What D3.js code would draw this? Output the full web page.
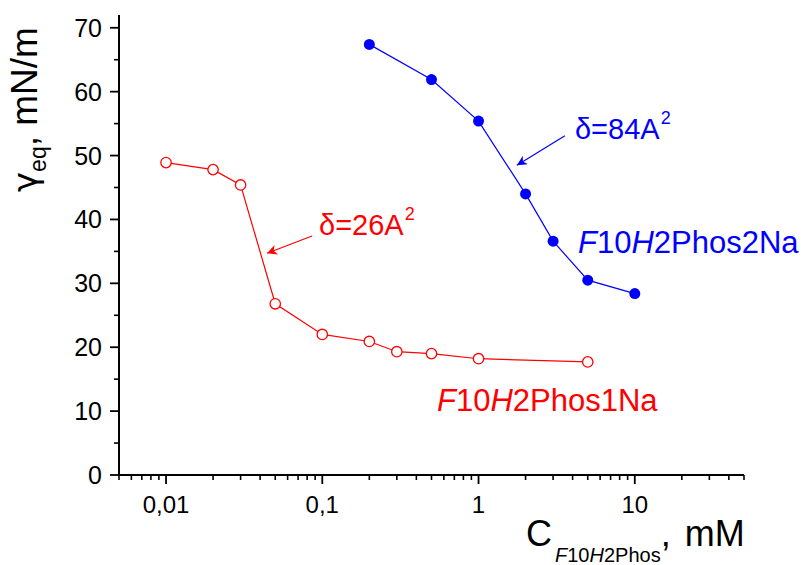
<!DOCTYPE html>
<html>
<head>
<meta charset="utf-8">
<script src="https://cdn.jsdelivr.net/npm/d3@7"></script>
<style>
  body { margin: 0; background: #fff; }
  svg { display: block; font-family: "Liberation Sans", Arial, sans-serif; }
</style>
</head>
<body>
<div id="chart"></div>
<script>
// data
const conc1Na = [0.01, 0.02, 0.03, 0.05, 0.1, 0.2, 0.3, 0.5, 1, 5]
const gamma1Na = [48.9, 47.8, 45.4, 26.8, 22.0, 20.9, 19.3, 19.0, 18.2, 17.7]

const conc2Na = [0.2, 0.5, 1, 2, 3, 5, 10]
const gamma2Na = [67.4, 61.9, 55.4, 44.0, 36.6, 30.5, 28.4]

const xMajorTicks = [0.01, 0.1, 1, 10]
const xTickLabels = ["0,01", "0,1", "1", "10"]
const yMajorTicks = [0, 10, 20, 30, 40, 50, 60, 70]
const yMinorTicks = [5, 15, 25, 35, 45, 55, 65]

const width = 805
const height = 565

const svg = d3.select("#chart")
  .append("svg")
    .attr("width", width)
    .attr("height", height)

// scales: log x from 0.005 to 50, y from 0 to 72
const x = d3.scaleLog().domain([0.005, 50]).range([119, 744])
const y = d3.scaleLinear().domain([0, 72]).range([475, 15])

// minor ticks on the log axis: 2..9 of every decade inside the domain
const xMinorTicks = x.ticks().filter(t => xMajorTicks.indexOf(t) < 0)

const axisColor = "#000"

// ---- x axis
const gx = svg.append("g").attr("transform", `translate(0,${y(0)})`)
gx.append("line")
  .attr("x1", x.range()[0]).attr("x2", x.range()[1])
  .attr("stroke", axisColor).attr("stroke-width", 2)
gx.selectAll(".xminor")
  .data(xMinorTicks)
  .join("line")
  .attr("x1", d => x(d)).attr("x2", d => x(d))
  .attr("y1", 0).attr("y2", 5)
  .attr("stroke", axisColor).attr("stroke-width", 1.6)
gx.selectAll(".xmajor")
  .data(xMajorTicks)
  .join("line")
  .attr("x1", d => x(d)).attr("x2", d => x(d))
  .attr("y1", 0).attr("y2", 9)
  .attr("stroke", axisColor).attr("stroke-width", 1.8)
gx.selectAll(".xlabel")
  .data(xMajorTicks)
  .join("text")
  .attr("x", d => x(d))
  .attr("y", 38)
  .attr("text-anchor", "middle")
  .attr("font-size", 24)
  .text((d, i) => xTickLabels[i])

// ---- y axis
const gy = svg.append("g").attr("transform", `translate(${x(0.005)},0)`)
gy.append("line")
  .attr("y1", y.range()[0] + 1).attr("y2", y.range()[1])
  .attr("stroke", axisColor).attr("stroke-width", 2)
gy.selectAll(".yminor")
  .data(yMinorTicks)
  .join("line")
  .attr("y1", d => y(d)).attr("y2", d => y(d))
  .attr("x1", 0).attr("x2", -5)
  .attr("stroke", axisColor).attr("stroke-width", 1.6)
gy.selectAll(".ymajor")
  .data(yMajorTicks)
  .join("line")
  .attr("y1", d => y(d)).attr("y2", d => y(d))
  .attr("x1", 0).attr("x2", -9)
  .attr("stroke", axisColor).attr("stroke-width", 1.8)
gy.selectAll(".ylabel")
  .data(yMajorTicks)
  .join("text")
  .attr("x", -17)
  .attr("y", d => y(d) + 9)
  .attr("text-anchor", "end")
  .attr("font-size", 25)
  .text(d => d)

// ---- axis titles
const yTitle = svg.append("text")
  .attr("transform", "translate(37,192) rotate(-90)")
  .attr("font-size", 37)
yTitle.append("tspan").attr("font-family", "DejaVu Sans").attr("font-size", 34).text("γ")
yTitle.append("tspan").attr("font-size", 23).attr("dy", 9).text("eq")
yTitle.append("tspan").attr("dy", -9).text(", mN/m")

const xTitle = svg.append("text")
  .attr("x", 526)
  .attr("y", 546)
  .attr("font-size", 36)
xTitle.append("tspan").text("C")
const sub = xTitle.append("tspan").attr("font-size", 20).attr("dy", 16)
sub.append("tspan").attr("font-style", "italic").attr("dx", 3).text("F")
sub.append("tspan").text("10")
sub.append("tspan").attr("font-style", "italic").text("H")
sub.append("tspan").text("2Phos")
xTitle.append("tspan").attr("dy", -16).text(",")
xTitle.append("tspan").attr("dx", 14).text("mM")

// ---- series
const line = d3.line().x(d => x(d[0])).y(d => y(d[1]))

const red = "#ff0000"
const blue = "#0000ff"

const pts1 = conc1Na.map((c, i) => [c, gamma1Na[i]])
const pts2 = conc2Na.map((c, i) => [c, gamma2Na[i]])

svg.append("path")
  .datum(pts1)
  .attr("d", line)
  .attr("fill", "none")
  .attr("stroke", red)
  .attr("stroke-width", 1.2)
svg.selectAll(".p1")
  .data(pts1)
  .join("circle")
  .attr("cx", d => x(d[0]))
  .attr("cy", d => y(d[1]))
  .attr("r", 5.2)
  .attr("fill", "#fff")
  .attr("stroke", red)
  .attr("stroke-width", 1.3)

svg.append("path")
  .datum(pts2)
  .attr("d", line)
  .attr("fill", "none")
  .attr("stroke", blue)
  .attr("stroke-width", 1.2)
svg.selectAll(".p2")
  .data(pts2)
  .join("circle")
  .attr("cx", d => x(d[0]))
  .attr("cy", d => y(d[1]))
  .attr("r", 5.5)
  .attr("fill", blue)

// ---- annotations (positions in data units)
const defs = svg.append("defs")
function marker(id, color) {
  defs.append("marker")
    .attr("id", id)
    .attr("viewBox", "0 0 10 10")
    .attr("refX", 10).attr("refY", 5)
    .attr("markerWidth", 14).attr("markerHeight", 10)
    .attr("markerUnits", "userSpaceOnUse")
    .attr("orient", "auto")
    .append("path")
      .attr("d", "M0,0 L10,5 L0,10 L3,5 Z")
      .attr("fill", color)
}
marker("arrRed", red)
marker("arrBlue", blue)

function arrow(x0, y0, x1, y1, color, id) {
  svg.append("line")
    .attr("x1", x(x0)).attr("y1", y(y0))
    .attr("x2", x(x1)).attr("y2", y(y1))
    .attr("stroke", color).attr("stroke-width", 1.2)
    .attr("marker-end", `url(#${id})`)
}
arrow(3.57, 53.1, 1.76, 48.5, blue, "arrBlue")
arrow(0.086, 37.4, 0.0443, 34.7, red, "arrRed")

function delta(xv, yv, txt, color) {
  const t = svg.append("text")
    .attr("x", x(xv)).attr("y", y(yv))
    .attr("font-size", 29)
    .attr("fill", color)
  t.append("tspan").text(txt)
  t.append("tspan").attr("font-size", 18).attr("dy", -15).attr("dx", 1).text("2")
}
delta(4.14, 52.6, "δ=84A", blue)
delta(0.0953, 37.6, "δ=26A", red)

function name(xv, yv, digit, color) {
  const t = svg.append("text")
    .attr("x", x(xv)).attr("y", y(yv))
    .attr("font-size", 31)
    .attr("fill", color)
  t.append("tspan").attr("font-style", "italic").text("F")
  t.append("tspan").text("10")
  t.append("tspan").attr("font-style", "italic").text("H")
  t.append("tspan").text("2Phos" + digit + "Na")
}
name(4.33, 34.7, "2", blue)
name(0.542, 10.0, "1", red)
</script>
</body>
</html>
